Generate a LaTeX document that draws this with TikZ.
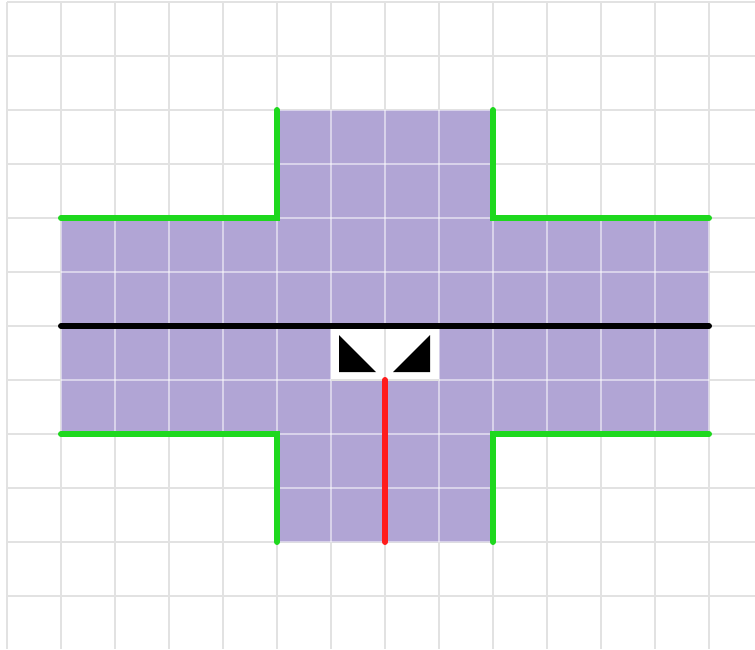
\documentclass[tikz,border=0pt]{standalone}
\definecolor{gridgray}{RGB}{226,226,226}
\definecolor{crosspurple}{RGB}{177,165,213}
\definecolor{edgegreen}{RGB}{30,216,30}
\definecolor{edgered}{RGB}{255,28,28}
\tikzset{
  gridline/.style={draw=gridgray, line width=2pt},
  gridlight/.style={draw=white, opacity=0.5, line width=2pt},
  greenedge/.style={draw=edgegreen, line width=6pt, line cap=round, line join=miter},
  blackedge/.style={draw=black, line width=6pt, line cap=round},
  rededge/.style={draw=edgered, line width=6pt, line cap=round},
}
\begin{document}
\begin{tikzpicture}[x=1pt,y=-1pt]
\useasboundingbox (0,0) rectangle (755,649);
\fill[white] (0,0) rectangle (755,649);
% grid
\foreach \x in {7,61,...,709} \draw[gridline] (\x,2) -- (\x,649);
\foreach \y in {2,56,...,596} \draw[gridline] (7,\y) -- (755,\y);
% cross
\fill[crosspurple] (61,218) -| (277,110) -| (493,218) -| (709,434) -| (493,542) -| (277,434) -| (61,218) -- cycle;
\begin{scope}
\clip (61,218) -| (277,110) -| (493,218) -| (709,434) -| (493,542) -| (277,434) -| (61,218) -- cycle;
\foreach \x in {7,61,...,709} \draw[gridlight] (\x,2) -- (\x,649);
\foreach \y in {2,56,...,596} \draw[gridlight] (7,\y) -- (755,\y);
\end{scope}
% white box
\fill[white] (331,326) rectangle (439,380);
\begin{scope}
\clip (331,326) rectangle (439,380);
\draw[gridline] (385,326) -- (385,380);
\draw[gridline] (331,380) -- (439,380);
\end{scope}
% named points
\coordinate (tl1) at (61,218);
\coordinate (tl2) at (277,218);
\coordinate (tl3) at (277,110);
\coordinate (tr1) at (493,110);
\coordinate (tr2) at (493,218);
\coordinate (tr3) at (709,218);
\coordinate (bl1) at (61,434);
\coordinate (bl2) at (277,434);
\coordinate (bl3) at (277,542);
\coordinate (br1) at (493,542);
\coordinate (br2) at (493,434);
\coordinate (br3) at (709,434);
\coordinate (ml) at (61,326);
\coordinate (mr) at (709,326);
\coordinate (rtop) at (385,380);
\coordinate (rbot) at (385,542);
% edges
\draw[greenedge] (tl1) -- (tl2) -- (tl3);
\draw[greenedge] (tr1) -- (tr2) -- (tr3);
\draw[greenedge] (bl1) -- (bl2) -- (bl3);
\draw[greenedge] (br1) -- (br2) -- (br3);
\draw[blackedge] (ml) -- (mr);
\draw[rededge] (rtop) -- (rbot);
% triangles
\fill[black] (339,335) -- (339,372) -- (376,372) -- cycle;
\fill[black] (430,335) -- (430,372) -- (393,372) -- cycle;
\end{tikzpicture}
\end{document}
